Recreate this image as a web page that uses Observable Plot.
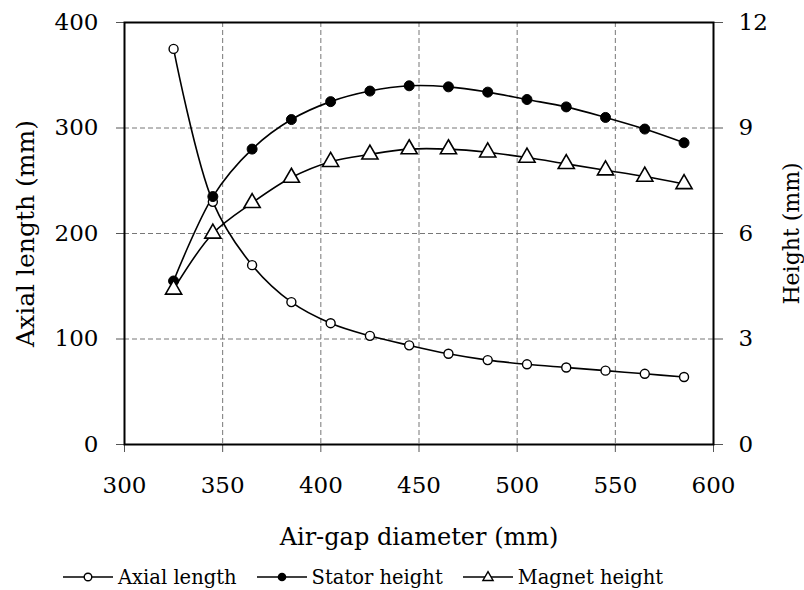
<!DOCTYPE html>
<html>
<head>
<meta charset="utf-8">
<script src="https://cdn.jsdelivr.net/npm/d3@7"></script>
<script src="https://cdn.jsdelivr.net/npm/@observablehq/plot@0.6"></script>
<style>
  body { margin: 0; background: #fff; font-family: "DejaVu Serif", serif; }
  #chart svg { display: block; }
  #legend { display: flex; align-items: center; gap: 20px; padding-left: 63px; height: 44px; font-size: 19.5px; color: #000; }
  #legend .item { display: flex; align-items: center; gap: 5px; }
</style>
</head>
<body>
<div id="chart"></div>
<div id="legend"></div>
<script>
const diameters = [325, 345, 365, 385, 405, 425, 445, 465, 485, 505, 525, 545, 565, 585];
const axialLength = [375, 230, 170, 135, 115, 103, 94, 86, 80, 76, 73, 70, 67, 64];
const statorHeight = [4.65, 7.05, 8.4, 9.24, 9.75, 10.05, 10.2, 10.17, 10.02, 9.81, 9.6, 9.3, 8.97, 8.58];
const magnetHeight = [4.41, 6.0, 6.87, 7.59, 8.04, 8.25, 8.4, 8.4, 8.31, 8.16, 7.98, 7.8, 7.62, 7.41];
const xTicks = [300, 350, 400, 450, 500, 550, 600];
const leftTicks = [0, 100, 200, 300, 400];
const rightTicks = [0, 3, 6, 9, 12];
const seriesNames = ["Axial length", "Stator height", "Magnet height"];

const K = 400 / 12; // right axis (mm) -> left axis units
const axial = diameters.map((d, i) => ({x: d, y: axialLength[i]}));
const stator = diameters.map((d, i) => ({x: d, y: statorHeight[i] * K}));
const magnet = diameters.map((d, i) => ({x: d, y: magnetHeight[i] * K}));

const font = "DejaVu Serif";
const chart = Plot.plot({
  width: 804,
  height: 555,
  marginLeft: 124,
  marginRight: 91,
  marginTop: 22,
  marginBottom: 111,
  style: {fontFamily: font, fontSize: "23px", color: "#000", background: "#fff"},
  x: {domain: [300, 600], label: null},
  y: {domain: [0, 400], label: null},
  marks: [
    Plot.gridX(xTicks.slice(1, -1), {stroke: "#777", strokeOpacity: 1, strokeDasharray: "5,3", strokeWidth: 1}),
    Plot.gridY(leftTicks.slice(1, -1), {stroke: "#777", strokeOpacity: 1, strokeDasharray: "5,3", strokeWidth: 1}),
    Plot.axisX(xTicks, {tickSize: 8, tickPadding: 24, stroke: "#555", fontSize: 23, label: null}),
    Plot.axisX({ticks: [], label: "Air-gap diameter (mm)", labelAnchor: "center", labelArrow: "none", labelOffset: 100, fontSize: 24}),
    Plot.axisY(leftTicks, {anchor: "left", tickSize: 8, tickPadding: 18, stroke: "#555", fontSize: 23, label: null}),
    Plot.axisY({anchor: "left", ticks: [], label: "Axial length (mm)", labelAnchor: "center", labelArrow: "none", labelOffset: 108, fontSize: 25}),
    Plot.axisY(rightTicks.map(t => t * K), {anchor: "right", tickSize: 9, tickPadding: 16, stroke: "#555", tickFormat: d => Math.round(d / K), fontSize: 23, label: null}),
    Plot.axisY({anchor: "right", ticks: [], label: "Height (mm)", labelAnchor: "center", labelArrow: "none", labelOffset: 85, fontSize: 22}),
    Plot.frame({stroke: "#000", strokeWidth: 2}),
    Plot.line(axial, {x: "x", y: "y", curve: "catmull-rom", stroke: "#000", strokeWidth: 1.6}),
    Plot.line(stator, {x: "x", y: "y", curve: "catmull-rom", stroke: "#000", strokeWidth: 1.6}),
    Plot.line(magnet, {x: "x", y: "y", curve: "catmull-rom", stroke: "#000", strokeWidth: 1.6}),
    Plot.dot(axial, {x: "x", y: "y", r: 4.5, fill: "#fff", stroke: "#000", strokeWidth: 1.4}),
    Plot.dot(stator, {x: "x", y: "y", r: 5, fill: "#000", stroke: "#000", strokeWidth: 1}),
    Plot.dot(magnet, {x: "x", y: "y", symbol: "triangle", r: 6, fill: "#fff", stroke: "#000", strokeWidth: 1.6})
  ]
});
document.getElementById("chart").appendChild(chart);

// Legend
const swatches = [
  `<circle cx="25" cy="10" r="3.8" fill="#fff" stroke="#000" stroke-width="1.4"/>`,
  `<circle cx="25" cy="10" r="4.3" fill="#000"/>`,
  `<path d="${d3.symbol(d3.symbolTriangle, 45)()}" transform="translate(25,10.5)" fill="#fff" stroke="#000" stroke-width="1.4"/>`
];
const legend = document.getElementById("legend");
seriesNames.forEach((name, i) => {
  const item = document.createElement("div");
  item.className = "item";
  item.innerHTML = `<svg width="50" height="20"><line x1="0" x2="50" y1="10" y2="10" stroke="#000" stroke-width="1.7"/>${swatches[i]}</svg><span>${name}</span>`;
  legend.appendChild(item);
});
</script>
</body>
</html>
